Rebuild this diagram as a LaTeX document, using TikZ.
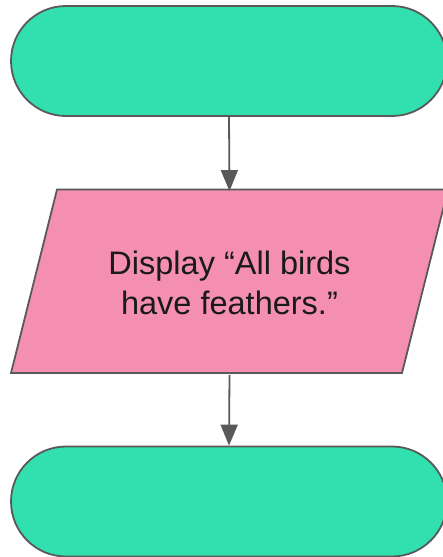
\documentclass[tikz,border=0pt]{standalone}
\usepackage{fontspec}
\setmainfont{Liberation Sans}
\usetikzlibrary{shapes.misc,arrows.meta}
\definecolor{termgreen}{HTML}{31DFAF}
\definecolor{iopink}{HTML}{F48FB1}
\definecolor{edgegray}{HTML}{595959}
\definecolor{textdark}{HTML}{1A1A1A}
\begin{document}
\begin{tikzpicture}[x=1pt,y=-1pt,
  stadium/.style={rounded rectangle, draw=edgegray, fill=termgreen, line width=1.8pt,
    minimum width=436pt, minimum height=110pt, inner sep=0pt},
  conn/.style={draw=edgegray, line width=1.8pt, -{Triangle[length=21pt,width=17pt]}},
  iobox/.style={draw=edgegray, fill=iopink, line width=1.8pt}]
\useasboundingbox (0,0) rectangle (443,557);
\node[stadium] (start) at (229,61) {};
\coordinate (pTL) at (57,189.5);
\coordinate (pTR) at (448,189.5);
\coordinate (pBR) at (402,373);
\coordinate (pBL) at (11,373);
\path[iobox] (pTL) -- (pTR) -- (pBR) -- (pBL) -- cycle;
\node[minimum width=300pt, minimum height=183.5pt, inner sep=0pt, align=center, text=textdark,
  font=\fontsize{32.5}{40}\selectfont] (disp) at (229.5,283) {Display “All birds\\have feathers.”};
\node[stadium] (end) at (229,501.5) {};
\draw[conn] (start.south) -- (disp.north);
\draw[conn] (disp.south) -- (end.north);
\end{tikzpicture}
\end{document}
